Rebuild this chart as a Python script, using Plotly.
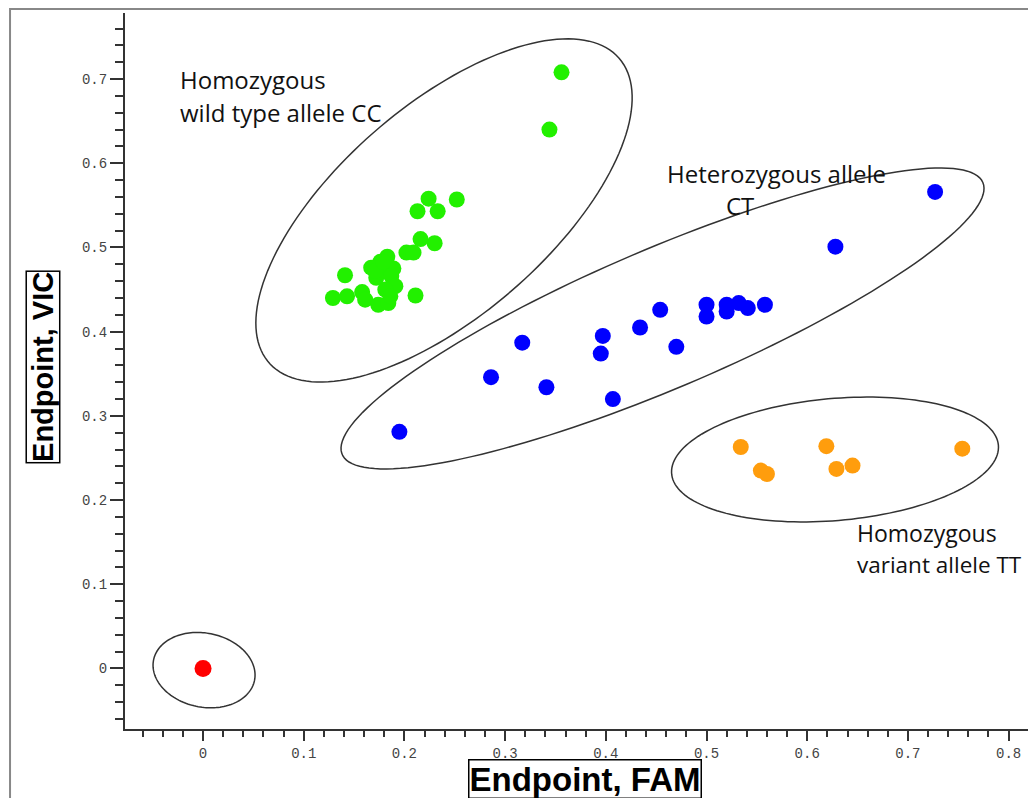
import numpy as np
import plotly.graph_objects as go

# endpoint readings per genotype cluster
cc_fam = [0.224, 0.252, 0.213, 0.233, 0.216, 0.230, 0.202, 0.209, 0.183, 0.176,
          0.167, 0.182, 0.189, 0.141, 0.172, 0.187, 0.191, 0.181, 0.211, 0.129,
          0.143, 0.158, 0.161, 0.174, 0.184, 0.186, 0.171, 0.179, 0.356, 0.344]
cc_vic = [0.558, 0.557, 0.543, 0.543, 0.510, 0.505, 0.494, 0.494, 0.489, 0.483,
          0.476, 0.475, 0.475, 0.467, 0.464, 0.466, 0.454, 0.450, 0.443, 0.440,
          0.442, 0.447, 0.438, 0.432, 0.434, 0.442, 0.472, 0.483, 0.708, 0.640]

ct_fam = [0.195, 0.286, 0.317, 0.341, 0.395, 0.397, 0.407, 0.434, 0.454, 0.470,
          0.500, 0.500, 0.520, 0.520, 0.532, 0.541, 0.558, 0.628, 0.727]
ct_vic = [0.281, 0.346, 0.387, 0.334, 0.374, 0.395, 0.320, 0.405, 0.426, 0.382,
          0.418, 0.432, 0.432, 0.424, 0.434, 0.428, 0.432, 0.501, 0.566]

tt_fam = [0.534, 0.554, 0.560, 0.619, 0.629, 0.645, 0.754]
tt_vic = [0.263, 0.235, 0.231, 0.264, 0.237, 0.241, 0.261]

ntc_fam = [0.0]
ntc_vic = [0.0]

# page body adds 8px, so the figure is 8px smaller than the window
W, H = 1028, 790
MARGIN = dict(l=117, r=0, t=5, b=69)
X_RANGE = [-0.0775, 0.8272]
Y_RANGE = [-0.0719, 0.7785]
px_x = (W - MARGIN['l'] - MARGIN['r']) / (X_RANGE[1] - X_RANGE[0])
px_y = (H - MARGIN['t'] - MARGIN['b']) / (Y_RANGE[1] - Y_RANGE[0])


def ellipse_path(cx, cy, a, b, deg, n=160):
    # a, b in screen pixels, rotation in degrees; converted to data units
    t = np.linspace(0, 2 * np.pi, n)
    th = np.radians(deg)
    dx = a * np.cos(t) * np.cos(th) - b * np.sin(t) * np.sin(th)
    dy = a * np.cos(t) * np.sin(th) + b * np.sin(t) * np.cos(th)
    xs = cx + dx / px_x
    ys = cy + dy / px_y
    return "M " + " L ".join(f"{x:.5f},{y:.5f}" for x, y in zip(xs, ys)) + " Z"


# cluster outlines: centre (data), semi-axes (px), tilt (deg)
outlines = [
    (0.2393, 0.544, 232, 105, 41),
    (0.4563, 0.4157, 348, 70, 23),
    (0.6276, 0.2482, 164, 61, 5),
    (0.001, -0.002, 51.5, 37, -11.5),
]

fig = go.Figure()
groups = [
    (cc_fam, cc_vic, '#22f000', 16),
    (ct_fam, ct_vic, '#0000ff', 16),
    (tt_fam, tt_vic, '#ff9d0d', 16),
    (ntc_fam, ntc_vic, '#ff0000', 17),
]
for xs, ys, color, size in groups:
    fig.add_trace(go.Scatter(x=xs, y=ys, mode='markers',
                             marker=dict(size=size, color=color, line=dict(width=0)),
                             showlegend=False))

shapes = []
for cx, cy, a, b, deg in outlines:
    shapes.append(dict(type='path', path=ellipse_path(cx, cy, a, b, deg),
                       xref='x', yref='y', line=dict(color='#333', width=1.5),
                       layer='below'))
# outer picture frame
shapes.append(dict(type='rect', xref='paper', yref='paper',
                   x0=-0.1262, x1=1.05, y0=-0.2, y1=1.0056,
                   line=dict(color='#888', width=2)))

labels = [
    ("Homozygous", -0.0248, 0.699, 'left', 24),
    ("wild type allele CC", -0.0248, 0.660, 'left', 24),
    ("Heterozygous allele", 0.459, 0.588, 'left', 24),
    ("CT", 0.533, 0.550, 'center', 24),
    ("Homozygous", 0.647, 0.161, 'left', 23),
    ("variant allele TT", 0.647, 0.123, 'left', 22.5),
]
annotations = [dict(text=t, x=x, y=y, xref='x', yref='y', xanchor=anc,
                    yanchor='middle', showarrow=False,
                    font=dict(family='Open Sans, Lato, sans-serif', size=sz, color='#111'))
               for t, x, y, anc, sz in labels]

title_font = dict(family='Liberation Sans, Arial, sans-serif', size=33, color='black', weight='bold')
annotations.append(dict(text="Endpoint, FAM", x=0.5044, y=-0.0705, xref='paper', yref='paper',
                        xanchor='center', yanchor='middle', showarrow=False, font=title_font,
                        bordercolor='black', borderwidth=1.5, borderpad=0))
annotations.append(dict(text="Endpoint, VIC", x=-0.0895, y=0.5056, xref='paper', yref='paper',
                        xanchor='center', yanchor='middle', showarrow=False, textangle=-90,
                        font=dict(title_font, size=29),
                        bordercolor='black', borderwidth=1.5, borderpad=0))

tick_font = dict(family='Liberation Mono, Courier New, monospace', size=14, color='#444')
fig.update_layout(
    width=W, height=H,
    margin=MARGIN,
    paper_bgcolor='white',
    plot_bgcolor='white',
    shapes=shapes,
    annotations=annotations,
    showlegend=False,
)
fig.update_xaxes(range=X_RANGE, showgrid=False, zeroline=False, showline=True,
                 linecolor='#333', linewidth=2, ticks='outside', ticklen=10,
                 tickwidth=1.5, tickcolor='#333', dtick=0.1, tick0=0,
                 tickfont=tick_font,
                 minor=dict(ticks='outside', ticklen=6, dtick=0.02, tick0=0,
                            tickcolor='#333', tickwidth=1.5, showgrid=False))
fig.update_yaxes(range=Y_RANGE, showgrid=False, zeroline=False, showline=True,
                 linecolor='#333', linewidth=2, ticks='outside', ticklen=13,
                 tickwidth=1.5, tickcolor='#333', dtick=0.1, tick0=0,
                 tickfont=tick_font,
                 minor=dict(ticks='outside', ticklen=8, dtick=0.02, tick0=0,
                            tickcolor='#333', tickwidth=1.5, showgrid=False))

fig.write_html("out.html")
